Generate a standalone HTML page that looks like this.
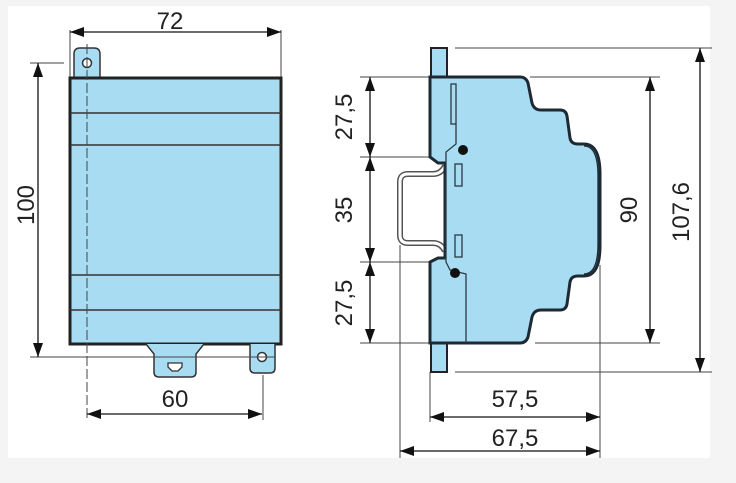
<!DOCTYPE html>
<html><head><meta charset="utf-8"><style>
html,body{margin:0;padding:0;background:#f4f4f4;}
svg{display:block;}
text{font-family:"Liberation Sans",sans-serif;font-size:24px;fill:#222;}
</style></head><body>
<svg width="736" height="483" viewBox="0 0 736 483" xmlns="http://www.w3.org/2000/svg">
<defs>
<marker id="a" viewBox="0 0 14 10" refX="14" refY="5" markerWidth="14" markerHeight="10" orient="auto-start-reverse" markerUnits="userSpaceOnUse"><path d="M0,0 L14,5 L0,10 z" fill="#111"/></marker>
</defs>
<rect x="8" y="6" width="702" height="452" fill="#fff"/>
<g stroke="#444" stroke-width="1" fill="none">
<line x1="70" y1="30" x2="70" y2="78"/><line x1="281" y1="30" x2="281" y2="78"/>
<line x1="30" y1="63" x2="64" y2="63"/>
<line x1="263" y1="375" x2="263" y2="420"/>
</g>
<path d="M74,78 V54 q0,-6 6,-6 h14 q6,0 6,6 V78" fill="#a8dcf3" stroke="#333" stroke-width="1.5"/>
<circle cx="87" cy="63" r="4.5" fill="#fff" stroke="#333" stroke-width="1.5"/>
<rect x="70" y="78" width="211" height="266" fill="#a8dcf3" stroke="#222" stroke-width="3"/>
<g stroke="#333" stroke-width="1.5">
<line x1="70" y1="113" x2="281" y2="113"/><line x1="70" y1="145" x2="281" y2="145"/>
<line x1="70" y1="275" x2="281" y2="275"/><line x1="70" y1="310" x2="281" y2="310"/>
</g>
<path d="M146,344 l8,10 v18 q0,5 5,5 h32 q5,0 5,-5 v-18 l8,-10" fill="#a8dcf3" stroke="#333" stroke-width="1.5"/>
<path d="M168,363 h14 v4 l-4,4 h-6 l-4,-4 z" fill="#fff" stroke="#333" stroke-width="1.3"/>
<path d="M250,344 v24 q0,5 5,5 h15 q5,0 5,-5 v-24" fill="#a8dcf3" stroke="#333" stroke-width="1.5"/>
<circle cx="262" cy="357" r="4.5" fill="#fff" stroke="#333" stroke-width="1.5"/>
<line x1="30" y1="357" x2="275" y2="357" stroke="#444" stroke-width="1"/>
<line x1="87" y1="44" x2="87" y2="420" stroke="#444" stroke-width="1" stroke-dasharray="10,3"/>
<g stroke="#111" stroke-width="1.3" fill="none">
<line x1="70" y1="32" x2="281" y2="32" marker-start="url(#a)" marker-end="url(#a)"/>
<line x1="38" y1="63" x2="38" y2="357" marker-start="url(#a)" marker-end="url(#a)"/>
<line x1="87" y1="414" x2="262" y2="414" marker-start="url(#a)" marker-end="url(#a)"/>
</g>
<text x="170" y="29" text-anchor="middle">72</text>
<text x="175" y="407" text-anchor="middle">60</text>
<text transform="translate(34,205) rotate(-90)" text-anchor="middle">100</text>

<g stroke="#444" stroke-width="1" fill="none">
<line x1="455" y1="48" x2="712" y2="48"/>
<line x1="455" y1="372" x2="712" y2="372"/>
<line x1="530" y1="77" x2="660" y2="77"/>
<line x1="535" y1="343" x2="660" y2="343"/>
<line x1="360" y1="77" x2="430" y2="77"/>
<line x1="360" y1="157" x2="440" y2="157"/>
<line x1="360" y1="262" x2="440" y2="262"/>
<line x1="360" y1="343" x2="430" y2="343"/>
<line x1="400" y1="245" x2="400" y2="458"/>
<line x1="430" y1="372" x2="430" y2="422"/>
<line x1="600" y1="265" x2="600" y2="458"/>
</g>
<path d="M445,166 q-4,8 -12,8 h-25 q-8,0 -8,8 v53 q0,8 8,8 h25 q8,0 12,8" fill="none" stroke="#555" stroke-width="6"/>
<path d="M445,166 q-4,8 -12,8 h-25 q-8,0 -8,8 v53 q0,8 8,8 h25 q8,0 12,8" fill="none" stroke="#fff" stroke-width="3"/>
<rect x="431" y="48" width="16" height="30" fill="#a8dcf3" stroke="#222" stroke-width="2"/>
<rect x="431" y="343" width="16" height="29" fill="#a8dcf3" stroke="#222" stroke-width="2"/>
<path d="M430,77 H520 q6,0 8,6 l4,20 q2,7 9,7 H560 q6,0 7,6 l3,22 q1,6 8,6 h6 q16,0 16,30 v72 q0,30 -16,30 h-6 q-7,0 -8,6 l-3,22 q-1,6 -7,6 H541 q-7,0 -9,7 l-4,20 q-2,6 -8,6 H430 V262 l8,-4 h7 V163 h-7 l-8,-6 Z" fill="#a8dcf3" stroke="#1e2a33" stroke-width="3"/>
<path d="M584,146 q14,0 14,30 v68 q0,30 -14,30" fill="none" stroke="#1e2a33" stroke-width="1.3"/>
<g stroke="#2a3a44" stroke-width="1.3" fill="none">
<rect x="451" y="84" width="5" height="40"/>
<rect x="455" y="164" width="7" height="22"/>
<rect x="455" y="235" width="7" height="22"/>
<path d="M456,124 v20 l-10,8 v110 l4,8 l16,4 v69"/>
</g>
<circle cx="463" cy="150" r="5" fill="#111"/>
<circle cx="455" cy="273" r="5" fill="#111"/>
<g stroke="#111" stroke-width="1.3" fill="none">
<line x1="370" y1="77" x2="370" y2="157" marker-start="url(#a)" marker-end="url(#a)"/>
<line x1="370" y1="157" x2="370" y2="262" marker-start="url(#a)" marker-end="url(#a)"/>
<line x1="370" y1="262" x2="370" y2="343" marker-start="url(#a)" marker-end="url(#a)"/>
<line x1="650" y1="77" x2="650" y2="343" marker-start="url(#a)" marker-end="url(#a)"/>
<line x1="700" y1="48" x2="700" y2="372" marker-start="url(#a)" marker-end="url(#a)"/>
<line x1="430" y1="417" x2="600" y2="417" marker-start="url(#a)" marker-end="url(#a)"/>
<line x1="400" y1="451" x2="600" y2="451" marker-start="url(#a)" marker-end="url(#a)"/>
</g>
<text transform="translate(352,117) rotate(-90)" text-anchor="middle">27,5</text>
<text transform="translate(352,210) rotate(-90)" text-anchor="middle">35</text>
<text transform="translate(352,303) rotate(-90)" text-anchor="middle">27,5</text>
<text transform="translate(637,210) rotate(-90)" text-anchor="middle">90</text>
<text transform="translate(689,212) rotate(-90)" text-anchor="middle">107,6</text>
<text x="515" y="407" text-anchor="middle">57,5</text>
<text x="515" y="446" text-anchor="middle">67,5</text>
</svg>
</body></html>
